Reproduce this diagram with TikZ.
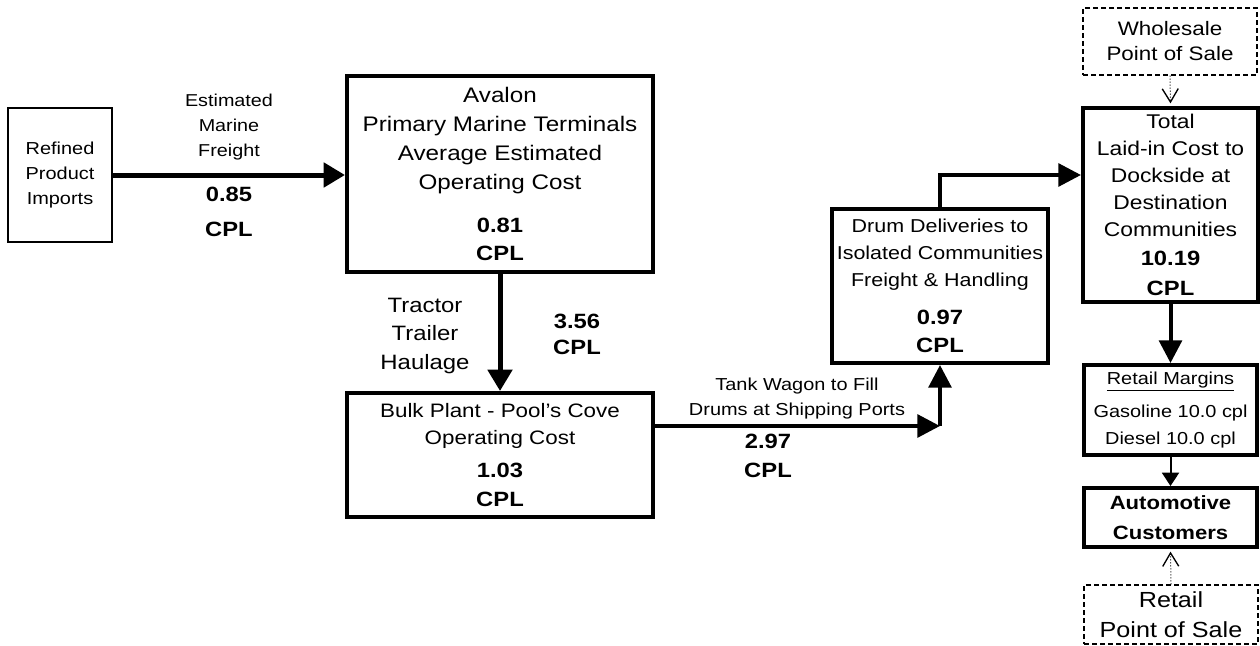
\documentclass[tikz,border=0pt]{standalone}
\usepackage{fontspec}
\setmainfont[FakeStretch=1.15]{Liberation Sans}
\usetikzlibrary{arrows.meta}

\newcommand{\fnum}{\fontsize{15.5}{\the\baselineskip}\bfseries\selectfont}

\begin{document}
\begin{tikzpicture}[x=0.75pt,y=0.75pt,yscale=-1,xscale=1,
  box/.style={draw, line width=3pt, inner sep=0pt, align=center},
  thinbox/.style={draw, line width=1.5pt, inner sep=0pt, align=center},
  dashbox/.style={draw, line width=1pt, dash pattern=on 4pt off 2pt, inner sep=0pt, align=center},
  lbl/.style={inner sep=0pt, align=center, anchor=north},
  bigarrow/.style={line width=3.75pt, -{Triangle[length=16pt,width=18pt]}},
  midarrow/.style={line width=3pt, -{Triangle[length=17pt,width=17pt]}},
  thinarrow/.style={line width=1.5pt, -{Triangle[length=10pt,width=12.75pt]}},
  dotarrow/.style={line width=0.75pt, dash pattern=on 0.75pt off 1.5pt, -{Straight Barb[length=10pt,width=12pt,line width=1pt]}}]
\useasboundingbox (0,0) rectangle (1260,646);

%Shape: Rectangle
\node [thinbox, minimum width=78pt, minimum height=100.5pt, font=\fontsize{13}{18.75}\selectfont] (refined) at (60,175) {Refined\\Product\\Imports};
%Shape: Rectangle
\node [box, minimum width=229.5pt, minimum height=147pt, font=\fontsize{15.8}{21.75}\selectfont] (avalon) at (500,174) {Avalon\\Primary Marine Terminals\\Average Estimated\\Operating Cost\\[10.5pt]\fnum 0.81\\[-0.75pt]\fnum CPL};
%Shape: Rectangle
\node [box, minimum width=229.5pt, minimum height=93pt, font=\fontsize{14.6}{20}\selectfont] (bulk) at (500,455) {Bulk Plant - Pool's Cove\\Operating Cost\\[4.75pt]\fnum 1.03\\[1.75pt]\fnum CPL};
%Shape: Rectangle
\node [box, minimum width=162pt, minimum height=115.5pt, font=\fontsize{14}{20}\selectfont] (drum) at (940,286) {Drum Deliveries to\\Isolated Communities\\Freight \& Handling\\[8.75pt]\fnum 0.97\\[1.25pt]\fnum CPL};
%Shape: Rectangle
\node [box, minimum width=131.25pt, minimum height=145.5pt, font=\fontsize{14.9}{20.25}\selectfont] (total) at (1170.5,205) {Total\\Laid-in Cost to\\Dockside at\\Destination\\Communities\\[1.5pt]\fnum 10.19\\[2.25pt]\fnum CPL};
%Shape: Rectangle
\node [box, minimum width=129.75pt, minimum height=67.5pt, font=\fontsize{13}{20}\selectfont] (retail) at (1170.5,410) {\underline{Retail Margins}\\[5pt]Gasoline 10.0 cpl\\Diesel 10.0 cpl};
%Shape: Rectangle
\node [box, minimum width=129.75pt, minimum height=44.25pt, font=\fontsize{14.4}{22.5}\bfseries\selectfont] (auto) at (1170.5,517.5) {Automotive\\Customers};
%Shape: Rectangle
\node [dashbox, minimum width=130.5pt, minimum height=50.25pt, font=\fontsize{14.6}{18.75}\selectfont] (wholesale) at (1170,41.5) {Wholesale\\Point of Sale};
%Shape: Rectangle
\node [dashbox, minimum width=130.5pt, minimum height=44.25pt, font=\fontsize{16.4}{22.5}\selectfont] (retailpos) at (1171,614.5) {Retail\\Point of Sale};

%Straight Lines
\draw [bigarrow] (refined.east) -- (refined.east -| avalon.west);
%Straight Lines
\draw [bigarrow] (avalon.south) -- (bulk.north);
%Straight Lines
\coordinate (tw) at (940,426);
\draw [midarrow] (bulk.east |- tw) -- (tw);
\draw [midarrow] (tw) -- (drum.south);
%Straight Lines
\coordinate (bend) at (940,175);
\draw [midarrow] (drum.north) -- (bend) -- (bend -| total.west);
%Straight Lines
\draw [midarrow] (total.south) -- (retail.north);
\draw [thinarrow] (retail.south) -- (auto.north);
%Straight Lines
\draw [dotarrow] (wholesale.south) -- ([yshift=-2pt]total.north);
\draw [dotarrow] (retailpos.north) -- ([yshift=2pt]auto.south);

% Text Node
\node [lbl, font=\fontsize{12.9}{19}\selectfont] (freightlbl) at (229,93.5) {Estimated\\Marine\\Freight};
% Text Node
\node [lbl, font=\fontsize{15.5}{26.25}\bfseries\selectfont] (freightnum) at (229,187) {0.85\\CPL};
% Text Node
\node [lbl, font=\fontsize{15.6}{21.25}\selectfont] (haullbl) at (425,298) {Tractor\\Trailer\\Haulage};
% Text Node
\node [lbl, font=\fontsize{15.5}{20}\bfseries\selectfont] (haulnum) at (577,313.5) {3.56\\CPL};
% Text Node
\node [lbl, font=\fontsize{13}{18.25}\selectfont] (tanklbl) at (797,378) {Tank Wagon to Fill\\Drums at Shipping Ports};
% Text Node
\node [lbl, font=\fontsize{15.5}{22}\bfseries\selectfont] (tanknum) at (768,433.5) {2.97\\CPL};

\end{tikzpicture}
\end{document}
